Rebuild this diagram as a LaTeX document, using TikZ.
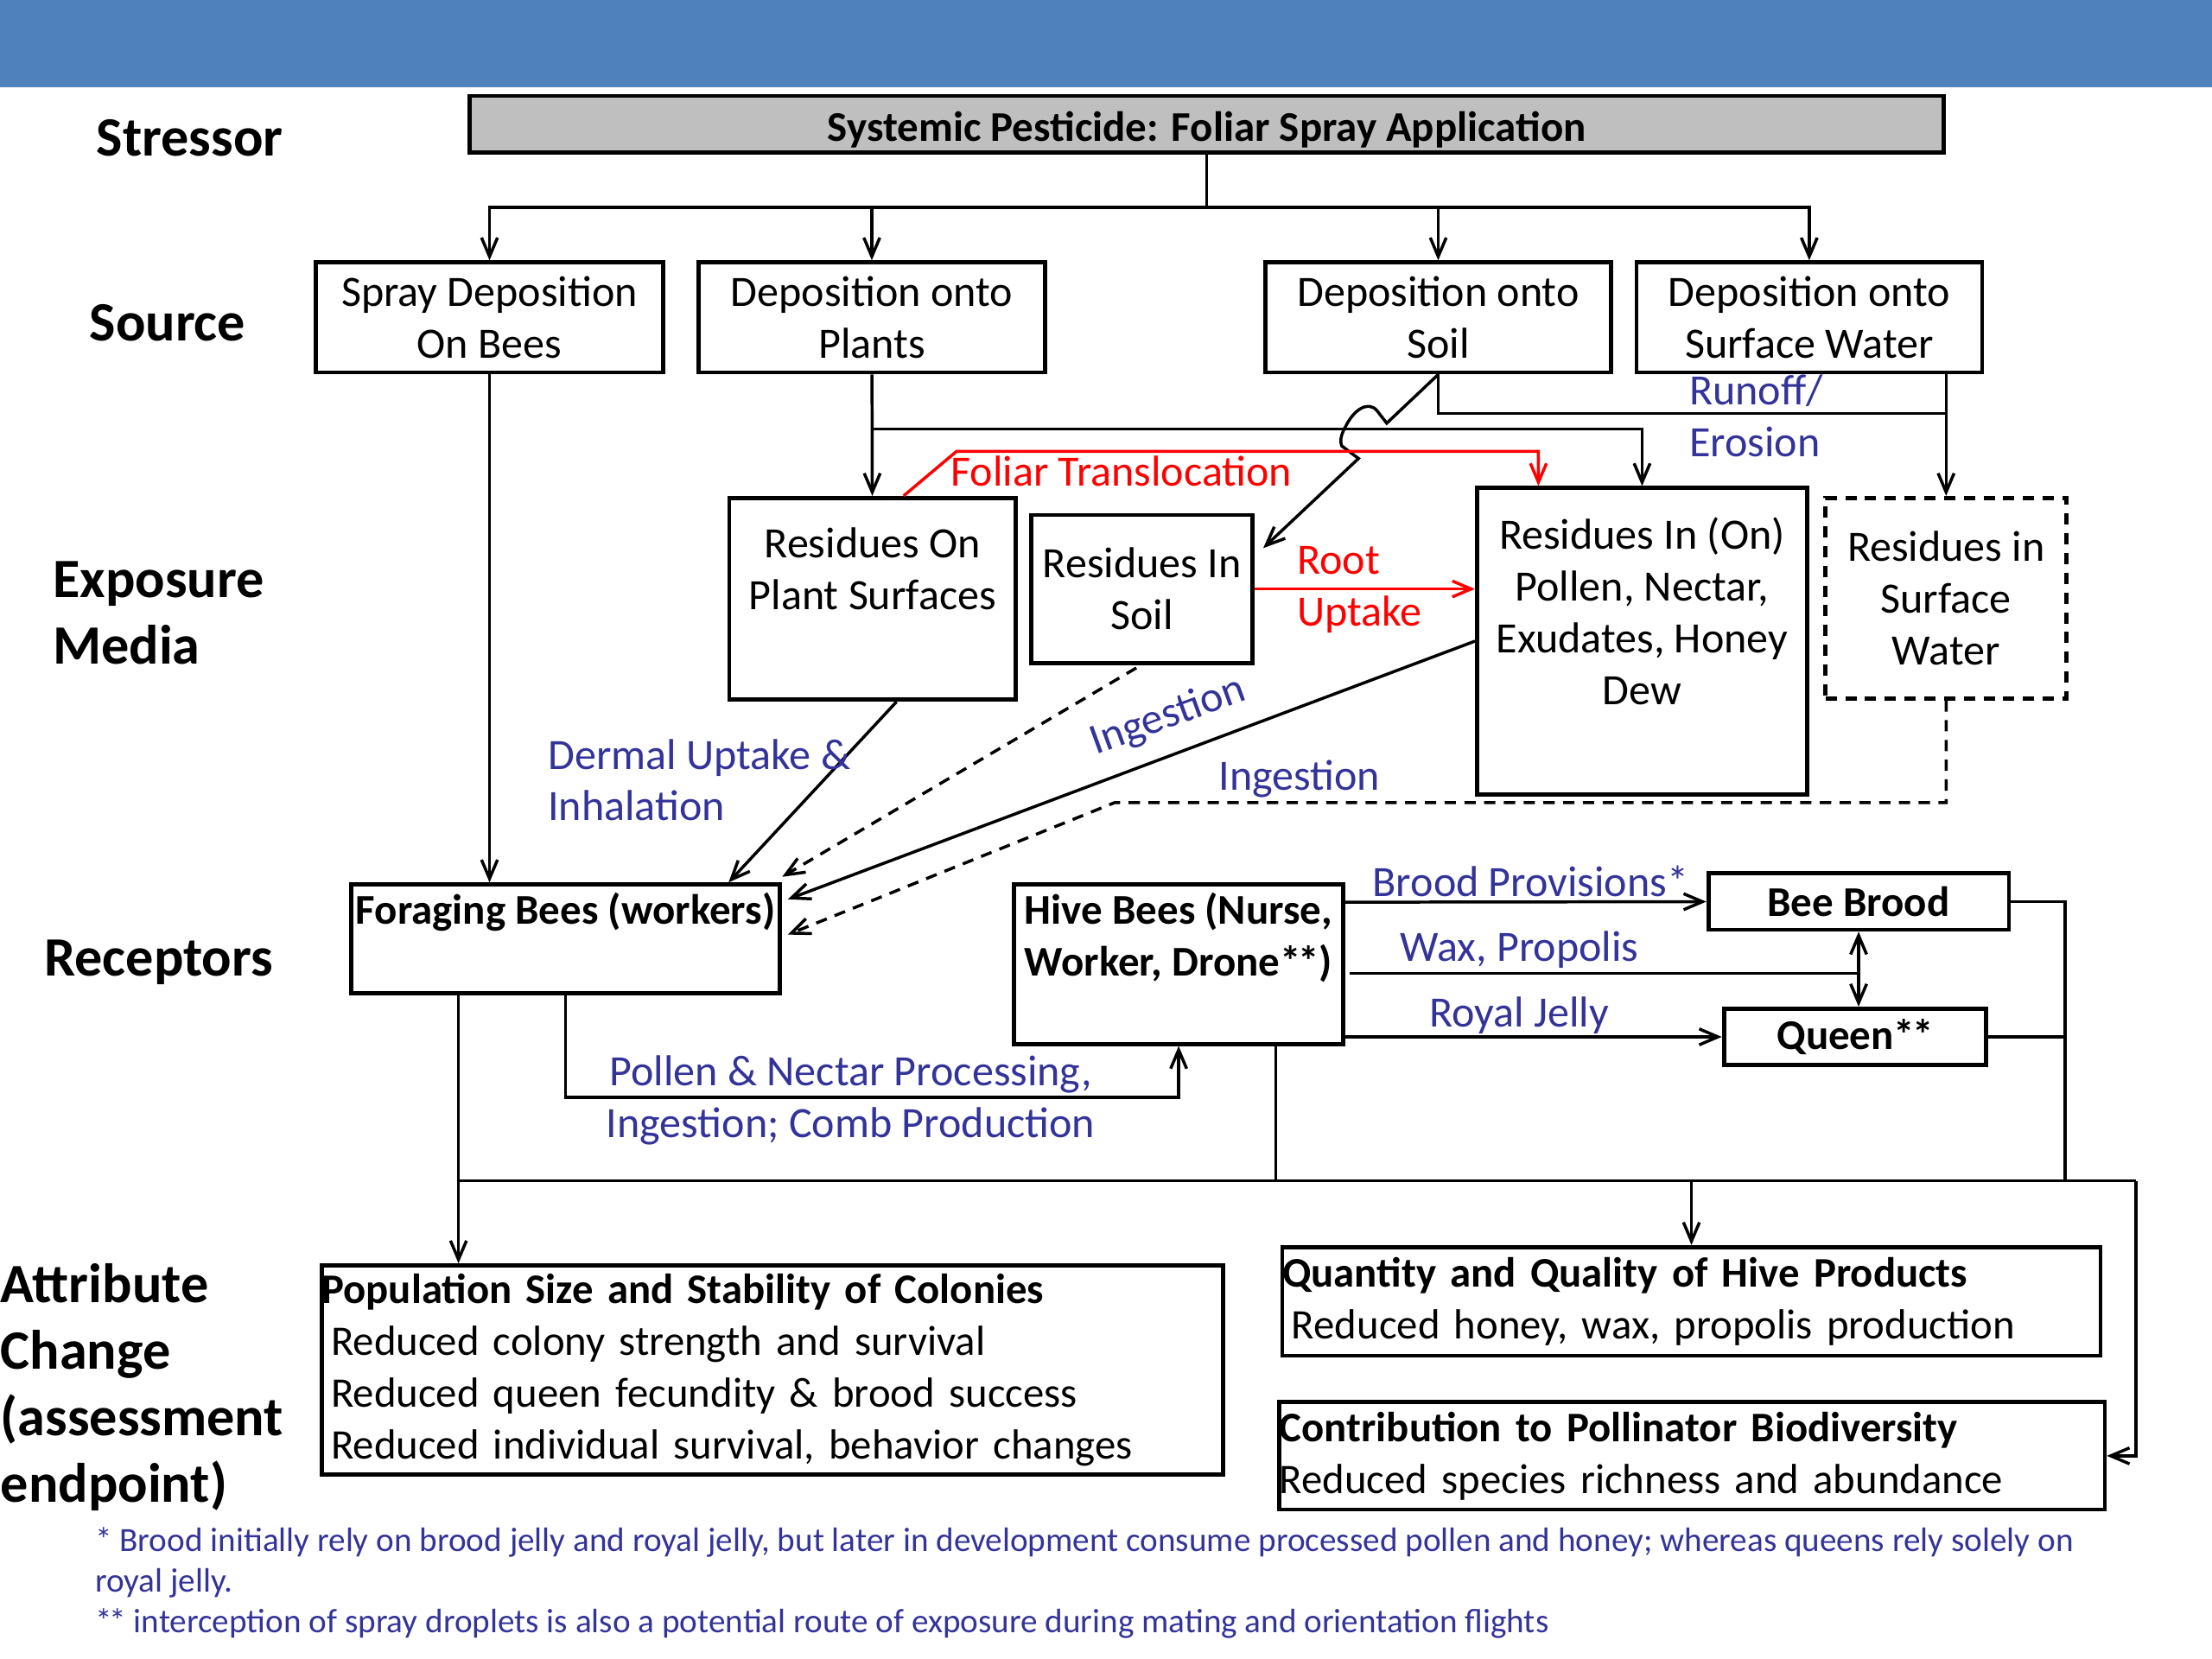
\documentclass[tikz,border=0pt]{standalone}
\usepackage{fontspec}
\setmainfont{Carlito}
\usetikzlibrary{arrows.meta,calc}
\definecolor{headblue}{RGB}{79,129,189}
\definecolor{lblblue}{RGB}{51,51,153}
\definecolor{boxgray}{RGB}{191,191,191}
\newcommand{\dstar}{*\kern-1.5pt*}
\tikzset{every picture/.style={line width=0.75pt}}
\tikzset{
  box/.style={draw, line width=2.2pt, inner sep=0pt, align=center, font=\fontsize{23}{27.5}\selectfont},
  upbox/.style={box, text depth=32pt},
  rcpbox/.style={box, font=\fontsize{22.5}{27.5}\selectfont\bfseries},
  endbox/.style={box, align=left, font=\fontsize{22.4}{27.6}\selectfont},
  lbl/.style={text=lblblue, inner sep=0.75pt, align=left, font=\fontsize{23}{27.5}\selectfont},
  redlbl/.style={lbl, text=red},
  rowlbl/.style={anchor=west, inner sep=0pt, align=left, font=\fontsize{29.5}{35.3}\selectfont\bfseries},
  link/.style={line width=1.6pt},
  con/.style={link, -{Straight Barb[length=10pt,width=8.5pt]}},
  dcon/.style={con, dash pattern={on 6pt off 4.5pt}},
}

\begin{document}
\begin{tikzpicture}[x=0.75pt,y=0.75pt,yscale=-1,xscale=1]
\useasboundingbox (0,0) rectangle (1568,1176);

%Shape: Rectangle (title band)
\fill [headblue] (0,0) rectangle (1568,62);

% Row labels
\draw (68,98) node (rowStress) [rowlbl] {Stressor};
\draw (63,229) node (rowSource) [rowlbl] {Source};
\draw (37,434.5) node (rowMedia) [rowlbl] {Exposure\\Media};
\draw (31,682) node (rowRecep) [rowlbl] {Receptors};
\draw (0,983.5) node (rowAttr) [rowlbl] {Attribute\\Change\\(assessment\\endpoint)};

%Shape: Rectangle
\draw (855.5,88) node (stress) [box, fill=boxgray, minimum width=783.75pt, minimum height=30pt, text height=23pt, text depth=5pt, font=\fontsize{22.5}{26}\selectfont\bfseries] {Systemic Pesticide: Foliar Spray Application};

%Shape: Rectangle
\draw (347,225) node (spray) [box, minimum width=184.5pt, minimum height=58.5pt] {Spray Deposition\\On Bees};
\draw (618,225) node (plants) [box, minimum width=184.5pt, minimum height=58.5pt] {Deposition onto\\Plants};
\draw (1019.5,225) node (soil) [box, minimum width=183.75pt, minimum height=58.5pt] {Deposition onto\\Soil};
\draw (1282.5,225) node (water) [box, minimum width=183.75pt, minimum height=58.5pt] {Deposition onto\\Surface Water};

%Shape: Rectangle
\draw (618.5,424.5) node (resplant) [upbox, minimum width=152.25pt, minimum height=107.25pt] {Residues On\\Plant Surfaces};
\draw (809.5,417.5) node (ressoil) [box, minimum width=117.75pt, minimum height=78.75pt] {Residues In\\Soil};
\draw (1164,454.5) node (respollen) [upbox, minimum width=175.5pt, minimum height=162.75pt] {Residues In (On)\\Pollen, Nectar,\\Exudates, Honey\\Dew};
\draw (1379.5,424) node (reswater) [box, dash pattern={on 6pt off 4.5pt}, minimum width=128.25pt, minimum height=106.5pt] {Residues in\\Surface\\Water};

%Shape: Rectangle
\draw (401,665.5) node (forage) [rcpbox, text depth=32pt, minimum width=228pt, minimum height=57.75pt] {Foraging Bees (workers)};
\draw (835.5,683.5) node (hive) [rcpbox, text depth=32pt, minimum width=174.75pt, minimum height=84.75pt] {Hive Bees (Nurse,\\Worker, Drone\dstar)};
\draw (1317.5,639) node (brood) [rcpbox, minimum width=159.75pt, minimum height=30pt] {Bee Brood};
\draw (1315,735) node (queen) [rcpbox, minimum width=139.5pt, minimum height=30pt] {Queen\dstar};

%Shape: Rectangle
\draw (547.5,971) node (pop) [endbox, text width=479.25pt, minimum height=111pt] {\textbf{Population Size and Stability of Colonies}\\\hspace*{5pt}Reduced colony strength and survival\\\hspace*{5pt}Reduced queen fecundity \& brood success\\\hspace*{5pt}Reduced individual survival, behavior changes};
\draw (1199,922.5) node (quant) [endbox, text width=435pt, minimum height=57.75pt] {\textbf{Quantity and Quality of Hive Products}\\\hspace*{5pt}Reduced honey, wax, propolis production};
\draw (1199.5,1032) node (contrib) [endbox, text width=438.75pt, minimum height=57pt] {\textbf{Contribution to Pollinator Biodiversity}\\Reduced species richness and abundance};

% Bends
\coordinate (split) at (855.5,147);
\coordinate (plantsFork) at (618,304);
\coordinate (runoff) at (1019.5,293);
\coordinate (ftBend) at (678,320);
\coordinate (hopA) at (983,300);
\coordinate (hopB) at (951,316);
\coordinate (hopC) at (963,325);
\coordinate (wetBend) at (790,569);
\coordinate (procBend) at (620,778);
\coordinate (waxEnd) at (1317.5,690);
\coordinate (colL) at (325,837);
\coordinate (colR) at (1514,837);
\coordinate (colQ) at (1464,837);

%Straight Lines
\draw [link] (stress) -- (split);
\draw [con] (split) -| (spray);
\draw [con] (split) -| (plants);
\draw [con] (split) -| (soil);
\draw [con] (split) -| (water);

%Straight Lines
\draw [con] (plants) -- (resplant);
\draw [con] (plantsFork) -| (respollen);
\draw [link] (soil.south) |- (runoff -| reswater.north);
\draw [con] (water.south -| reswater.north) -- (reswater);
\draw [con] (soil.south) -- (hopA) -- (976,291) .. controls (970,284) and (960,290) .. (954,302) .. controls (950,309) and (950,313) .. (hopB) -- (hopC) -- ($(ressoil.north east)+(6,25)$);

%Straight Lines (red)
\draw [con, red] ($(resplant.north)+(22,0)$) -- (ftBend) -| ($(respollen.north west)+(45,0)$);
\draw [con, red] (ressoil) -- (ressoil -| respollen.west);

%Straight Lines
\draw [con] (spray) -- (spray |- forage.north);
\draw [con] ($(resplant.south)+(17,0)$) -- ($(forage.north east)+(-38,0)$);
\draw [dcon] ($(ressoil.south)+(-4,2)$) -- ($(forage.north east)+(0,-4)$);
\draw [con] (respollen.west) -- ($(forage.east)+(4,-28)$);
\draw [dcon] (reswater) |- (wetBend) -- ($(forage.east)+(4,-3)$);

%Straight Lines
\draw [con] (forage) |- (procBend) -| (hive);
\draw [con] ($(hive.north east)+(0,14)$) -- (brood);
\draw [link] ($(hive.east)+(3,6.5)$) -- (waxEnd);
\draw [link, {Straight Barb[length=10pt,width=8.5pt]}-{Straight Barb[length=10pt,width=8.5pt]}] (brood) -- (brood |- queen.north);
\draw [con] (hive.east |- queen) -- (queen);

%Straight Lines
\draw [link] (colL) -- (colR);
\draw [con] (colL |- forage.south) -- (colL |- pop.north);
\draw [link] ($(hive.south east)+(-49,0)$) -- ($(colL -| hive.south east)+(-49,0)$);
\draw [link] (brood) -| (colQ);
\draw [link] (queen) -- (queen -| colQ);
\draw [con] (colL -| quant.north) -- (quant);
\draw [con] (colR) |- (contrib);

% Text Node
\draw (1196,295) node (lblRunoff) [lbl, anchor=west] {Runoff/\\Erosion};
% Text Node
\draw (795,334) node (lblFoliar) [redlbl] {Foliar Translocation};
% Text Node
\draw (918,418) node (lblRoot) [redlbl, anchor=west] {Root\\Uptake};
% Text Node
\draw (387,553) node (lblDermal) [lbl, anchor=west] {Dermal Uptake \&\\Inhalation};
% Text Node
\draw (828,508) node (lblIngA) [lbl, rotate=20] {Ingestion};
% Text Node
\draw (921,552) node (lblIngB) [lbl] {Ingestion};
% Text Node
\draw (1085,625) node (lblBrood) [lbl] {Brood Provisions*};
% Text Node
\draw (1077,673) node (lblWax) [lbl] {Wax, Propolis};
% Text Node
\draw (1077,720) node (lblRoyal) [lbl] {Royal Jelly};
% Text Node
\draw (603,780) node (lblProc) [lbl, align=center] {Pollen \& Nectar Processing,\\Ingestion; Comb Production};
% Text Node
\draw (66,1122) node (notes) [lbl, anchor=west, font=\fontsize{18}{21.5}\selectfont] {* Brood initially rely on brood jelly and royal jelly, but later in development consume processed pollen and honey; whereas queens rely solely on\\royal jelly.\\\dstar{} interception of spray droplets is also a potential route of exposure during mating and orientation flights};
\end{tikzpicture}
\end{document}
